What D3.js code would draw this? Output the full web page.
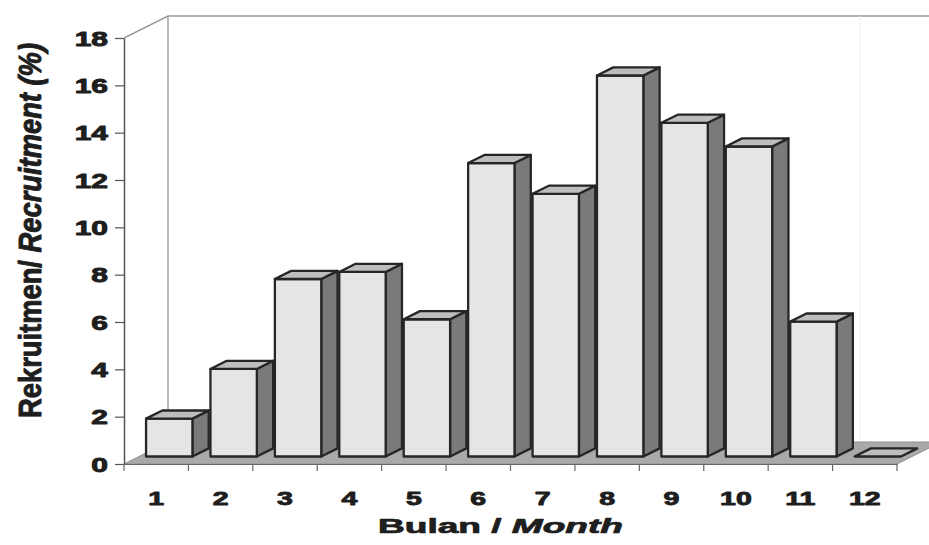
<!DOCTYPE html>
<html>
<head>
<meta charset="utf-8">
<script src="https://cdn.jsdelivr.net/npm/d3@7"></script>
<style>
  html, body { margin: 0; padding: 0; background: #fff; }
  svg { display: block; font-family: "Liberation Sans", Arial, sans-serif; }
</style>
</head>
<body>
<svg id="chart" width="929" height="545"></svg>
<script>
// Monthly recruitment (%)
const months = ["1", "2", "3", "4", "5", "6", "7", "8", "9", "10", "11", "12"];
const recruitment = [1.6, 3.7, 7.5, 7.8, 5.8, 12.4, 11.1, 16.1, 14.1, 13.1, 5.7, 0];
const yTicks = [0, 2, 4, 6, 8, 10, 12, 14, 16, 18];
const yMax = 18;

const W = 929, H = 545;
const svg = d3.select("#chart");

// Front plane of the 3-D box and the oblique depth vector
const plot = { left: 124, right: 897, top: 38, bottom: 464 };
const depth = { dx: 44, dy: -22 };
const P = (px, py, f) => [px + f * depth.dx, py + f * depth.dy];

const x = d3.scaleBand().domain(months).range([plot.left, plot.right]);
const y = d3.scaleLinear().domain([0, yMax]).range([plot.bottom, plot.top]);

// Column placement inside the box
const f1 = 0.34, f2 = 0.71;      // front / back depth of the columns
const gapL = 0.11, barW = 0.72;  // as fractions of the category step

const col = {
  front: "#e5e5e5", side: "#7a7a7a", top: "#bdbdbd",
  stroke: "#262626", floor: "#a9a9a9", wall: "#9a9a9a", text: "#1e1e1e"
};

const line = d3.line();

// Heavy label style: bold face thickened with a thin outline of the same ink
const heavy = (sel, size, w) => sel
  .style("font-size", size).style("font-weight", "bold")
  .attr("fill", col.text).attr("stroke", col.text).attr("stroke-width", w)
  .attr("stroke-linejoin", "round");

// Walls
const walls = svg.append("g").attr("fill", "none").attr("stroke", col.wall).attr("stroke-width", 1.4);
walls.append("path").attr("d", line([P(plot.left, y(yMax), 0), P(plot.left, y(yMax), 1), P(plot.right, y(yMax), 1)]));
walls.append("path").attr("d", line([P(plot.left, y(yMax), 1), P(plot.left, y(0), 1)]));
svg.append("line").attr("x1", 860).attr("x2", 860).attr("y1", y(yMax) + depth.dy).attr("y2", 440)
  .attr("stroke", "#ececec").attr("stroke-width", 1);

// Floor
svg.append("path")
  .attr("d", line([P(plot.left, y(0), 0), P(plot.right, y(0), 0), P(plot.right, y(0), 1), P(plot.left, y(0), 1)]) + "Z")
  .attr("fill", col.floor).attr("stroke", "#8f8f8f").attr("stroke-width", 1);

// Columns
const bars = svg.append("g").attr("stroke", col.stroke).attr("stroke-width", 2.3).attr("stroke-linejoin", "round");
months.forEach((m, i) => {
  const v = recruitment[i];
  const x1 = x(m) + gapL * x.step();
  const x2 = x1 + barW * x.step();
  const fl = P(x1, y(0), f1), fr = P(x2, y(0), f1);
  const tl = P(x1, y(v), f1), tr = P(x2, y(v), f1);
  const br = P(x2, y(0), f2), tbr = P(x2, y(v), f2), tbl = P(x1, y(v), f2);
  const g = bars.append("g");
  if (v > 0) {
    g.append("path").attr("d", line([tr, tbr, br, fr]) + "Z").attr("fill", col.side);
    g.append("path").attr("d", line([tl, tr, fr, fl]) + "Z").attr("fill", col.front);
  }
  g.append("path").attr("d", line([tl, tbl, tbr, tr]) + "Z").attr("fill", col.top);
});

// Value axis
const yAxis = svg.append("g")
  .attr("transform", `translate(${plot.left},0)`)
  .call(d3.axisLeft(y).tickValues(yTicks).tickSize(9).tickPadding(0).tickSizeOuter(0));
yAxis.select(".domain").attr("stroke", "#555").attr("stroke-width", 1.5);
yAxis.selectAll(".tick line").attr("stroke", "#555").attr("stroke-width", 1.2);
yAxis.selectAll(".tick text")
  .attr("x", 0).attr("dy", "0.36em")
  .attr("transform", "translate(-16,0) scale(1.5,1)")
  .attr("text-anchor", "end")
  .call(heavy, "20px", 0.9);

// Category axis: labels at the centre of each month, ticks on the boundaries
const xAxis = svg.append("g")
  .attr("transform", `translate(0,${plot.bottom})`)
  .call(d3.axisBottom(x).tickSize(0).tickPadding(0));
xAxis.select(".domain").attr("stroke", "#666").attr("stroke-width", 1.2);
xAxis.selectAll(".tick text")
  .attr("y", 0).attr("dy", 0)
  .attr("transform", "translate(0,41) scale(1.5,1)")
  .call(heavy, "19px", 0.9);
const bounds = months.map(m => x(m)).concat([x.range()[1]]);
xAxis.selectAll(".bound").data(bounds).join("line")
  .attr("class", "bound")
  .attr("x1", d => d).attr("x2", d => d).attr("y1", 0).attr("y2", 7)
  .attr("stroke", "#666").attr("stroke-width", 1.2);

// Axis titles
const xt = svg.append("text").attr("text-anchor", "middle").call(heavy, "19.5px", 0.7);
xt.append("tspan").text("Bulan / ");
xt.append("tspan").style("font-style", "italic").text("Month");
const xw = xt.node().getComputedTextLength();
xt.attr("transform", `translate(500.5,533) scale(${245 / xw},1)`);

const yt = svg.append("text").attr("text-anchor", "middle").call(heavy, "23px", 0.7);
yt.append("tspan").text("Rekruitmen/ ");
yt.append("tspan").style("font-style", "italic").text("Recruitment (%)");
const yl = yt.node().getComputedTextLength();
yt.attr("transform", `translate(41,230.5) scale(1.4,${375 / yl}) rotate(-90)`);
</script>
</body>
</html>
